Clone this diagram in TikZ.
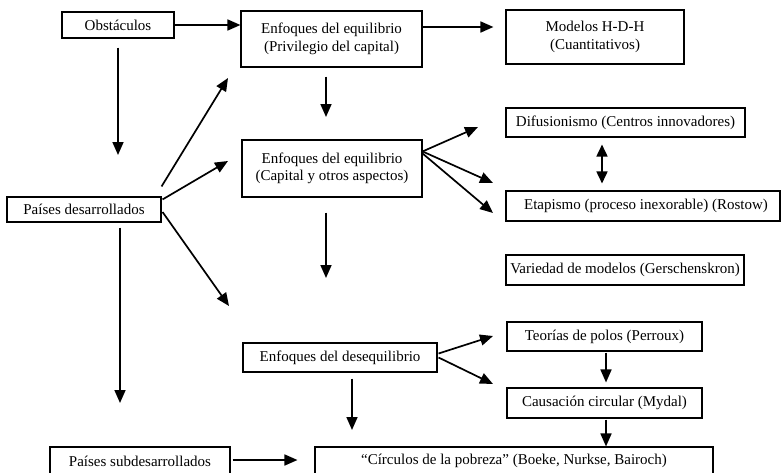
\documentclass[tikz,border=0pt]{standalone}
\usepackage{fontspec}
\setmainfont{Liberation Serif}
\usetikzlibrary{arrows.meta,calc}

\tikzset{
  box/.style={draw, line width=1.1pt, rectangle, inner sep=0pt, align=center,
    font=\fontsize{15}{17.5}\selectfont},
  conn/.style={line width=1.7pt, -{Triangle[length=13pt,width=11pt]}},
  biconn/.style={line width=1.7pt, {Triangle[length=12pt,width=11pt]}-{Triangle[length=12pt,width=11pt]}},
}

\begin{document}
\begin{tikzpicture}[x=1pt,y=-1pt]
\useasboundingbox (0,0) rectangle (782,472);

% boxes
\node[box, minimum width=112pt, minimum height=26pt] (obst) at (118,25) {Obstáculos};
\node[box, minimum width=181pt, minimum height=56pt] (eq1) at (331.5,39) {Enfoques del equilibrio\\(Privilegio del capital)};
\node[box, minimum width=178pt, minimum height=54pt] (hdh) at (595,37) {Modelos H-D-H\\(Cuantitativos)};
\node[box, minimum width=239pt, minimum height=29pt] (dif) at (625.5,122.5) {Difusionismo (Centros innovadores)};
\node[box, minimum width=274pt, minimum height=30pt] (etap) at (643,206) {\hspace{6pt}Etapismo (proceso inexorable) (Rostow)};
\node[box, minimum width=238pt, minimum height=30pt] (var) at (625,270) {Variedad de modelos (Gerschenskron)};
\node[box, minimum width=180pt, minimum height=57pt] (eq2) at (332,168.5) {Enfoques del equilibrio\\(Capital y otros aspectos)};
\node[box, minimum width=154pt, minimum height=25pt] (pdes) at (84,209.5) {Países desarrollados};
\node[box, minimum width=194pt, minimum height=29pt] (deseq) at (340,357.5) {Enfoques del desequilibrio};
\node[box, minimum width=195pt, minimum height=29pt] (polos) at (604.5,336.5) {Teorías de polos (Perroux)};
\node[box, minimum width=195pt, minimum height=30pt] (causa) at (604.5,403) {Causación circular (Mydal)};
\node[box, minimum width=180pt, minimum height=28pt] (psub) at (140,461) {Países subdesarrollados};
\node[box, minimum width=398pt, minimum height=28pt] (circ) at (514,461) {“Círculos de la pobreza” (Boeke, Nurkse, Bairoch)};

% free arrow tips
\coordinate (tObst) at (118,155);
\coordinate (tEq1) at (326,117);
\coordinate (tUp) at (228,78);
\coordinate (tMid) at (228,161);
\coordinate (tDown) at (229,306);
\coordinate (tPdes) at (120,403);
\coordinate (tEq2) at (326,278);
\coordinate (tDif) at (478,127);
\coordinate (tEtap) at (493,183);
\coordinate (tVar) at (493,213);
\coordinate (tDeseq) at (352,430);
\coordinate (tPolos) at (493,336);
\coordinate (tCausa) at (493,384);

% connectors
\draw[conn] (obst.east) -- (eq1.west |- obst.east);
\draw[conn] (eq1.east |- 0,27) -- ($(hdh.west |- 0,27)+(-12,0)$);
\draw[conn] ($(obst.south)+(0,9)$) -- (tObst);
\draw[conn] ($(eq1.south)+(-5.5,9)$) -- (tEq1);

\draw[conn] ($(pdes.north east)+(0,-10)$) -- (tUp);
\draw[conn] ($(pdes.north east)+(1,3)$) -- (tMid);
\draw[conn] ($(pdes.east)+(1,2.5)$) -- (tDown);
\draw[conn] ($(pdes.south)+(36,5)$) -- (tPdes);

\draw[conn] ($(eq2.south)+(-6,15)$) -- (tEq2);
\draw[conn] ($(eq2.north east)+(0,12)$) -- (tDif);
\draw[conn] ($(eq2.north east)+(0,12)$) -- (tEtap);
\draw[conn] ($(eq2.north east)+(0,14)$) -- (tVar);

\draw[biconn] ($(dif.south)+(-23.5,7)$) -- ($(etap.north)+(-41,-7)$);

\draw[conn] ($(deseq.south)+(12,6)$) -- (tDeseq);
\draw[conn] ($(deseq.east)+(1,-4)$) -- (tPolos);
\draw[conn] ($(deseq.east)+(1,0)$) -- (tCausa);

\draw[conn] ($(polos.south)+(1.5,1)$) -- ($(causa.north)+(1.5,-5)$);
\draw[conn] ($(causa.south)+(1.5,1)$) -- ($(circ.north)+(92,0)$);

\draw[conn] ($(psub.east)+(2,-1)$) -- ($(circ.west)+(-17,-1)$);

\end{tikzpicture}
\end{document}
